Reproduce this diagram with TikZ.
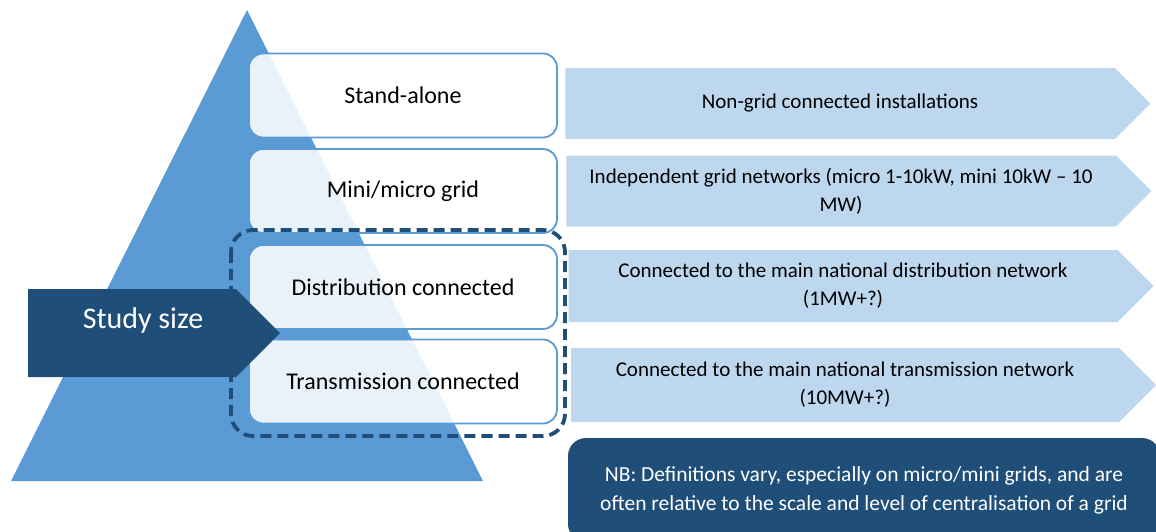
\documentclass[tikz,border=0pt]{standalone}
\usepackage{fontspec}
\setmainfont{Carlito}
\usetikzlibrary{shapes.symbols}

\definecolor{pyrblue}{HTML}{5B9BD5}
\definecolor{navy}{HTML}{1F4E79}
\definecolor{paleblue}{HTML}{BDD7EE}

\begin{document}
\begin{tikzpicture}[x=1pt, y=-1pt,
    level/.style={draw=pyrblue, line width=1.8pt, fill=white, fill opacity=0.87,
        text opacity=1, rounded corners=14pt, minimum width=308pt, minimum height=84pt,
        font=\fontsize{24}{28}\selectfont},
    tag/.style={signal, signal to=east, signal pointer angle=90, fill=paleblue,
        inner sep=0pt, minimum width=585pt, minimum height=71pt, align=center,
        font=\fontsize{21}{28}\selectfont}]

    \useasboundingbox (0,0) rectangle (1156,531);

    % pyramid
    \fill[pyrblue] (247,10) -- (483,481) -- (11,481) -- cycle;

    % the four levels
    \node[level] (stand) at (403,95.5) {Stand-alone};
    \node[level] (mini) at (403,191) {Mini/micro grid};
    \node[level] (dist) at (403,287) {Distribution connected};
    \node[level] (trans) at (403,381.5) {Transmission connected};

    % grid connected levels
    \draw[navy, line width=3.8pt, dash pattern=on 11pt off 6pt, rounded corners=22pt]
        (231,230) rectangle (565,436);

    % what each level means
    \node[tag] (standtxt) at (840,103.5) {Non-grid connected installations};
    \node[tag] (minitxt) at (841,191) {Independent grid networks (micro 1-10kW, mini 10kW -- 10\\MW)};
    \node[tag, minimum height=72pt] (disttxt) at (843,286) {Connected to the main national distribution network\\(1MW+?)};
    \node[tag, minimum height=74pt] (transtxt) at (845,385) {Connected to the main national transmission network\\(10MW+?)};

    \node[signal, signal to=east, signal pointer angle=90, fill=navy,
        minimum width=252pt, minimum height=88pt] (study) at (132,333) {};
    \node[text=white, font=\fontsize{30}{34}\selectfont] (studytxt)
        at ([shift={(11,-13)}]study.center) {Study size};

    \node[fill=navy, text=white, rounded corners=18pt, minimum width=592pt,
        minimum height=104pt, align=center, font=\fontsize{21.5}{29}\selectfont]
        (nb) at (864,490) {NB: Definitions vary, especially on micro/mini grids, and are\\often relative to the scale and level of centralisation of a grid};
\end{tikzpicture}
\end{document}
